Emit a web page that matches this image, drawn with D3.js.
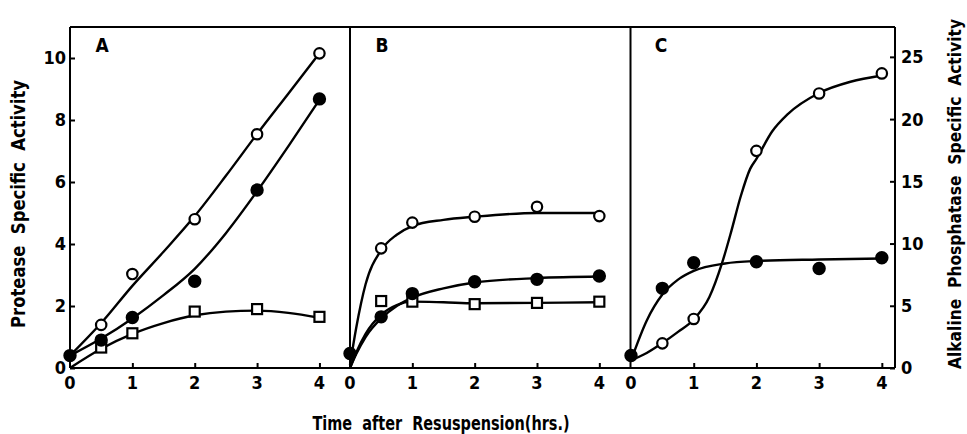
<!DOCTYPE html>
<html><head><meta charset="utf-8">
<script src="https://cdn.jsdelivr.net/npm/d3@7/dist/d3.min.js"></script>
<style>
html,body{margin:0;padding:0;background:#fff;}
svg text{font-family:"DejaVu Sans Condensed","DejaVu Sans",sans-serif;font-stretch:condensed;font-weight:bold;fill:#000;}
svg text.title{white-space:pre;}
</style></head>
<body><svg id="c" width="967" height="434"></svg>
<script>
// ---- data ----
const hours = [0, 0.5, 1, 2, 3, 4];
const xTicks = [0, 1, 2, 3, 4];
const leftTicks = [0, 2, 4, 6, 8, 10];
const rightTicks = [0, 5, 10, 15, 20, 25];
const panelLabels = ["A", "B", "C"];

// Panel A (protease)
const openA   = [null, 1.39, 3.03, 4.8, 7.54, 10.15];
const filledA = [0.4, 0.9, 1.63, 2.8, 5.74, 8.68];
const squareA = [null, 0.66, 1.12, 1.82, 1.9, 1.65];
const openFitA   = [[0,0.4],[0.5,1.45],[1,2.65],[1.5,3.75],[2,4.9],[2.5,6.2],[3,7.55],[3.5,8.85],[4,10.15]];
const filledFitA = [[0,0.4],[0.5,0.95],[1,1.6],[1.5,2.35],[2,3.2],[2.5,4.35],[3,5.7],[3.5,7.15],[4,8.65]];
const squareFitA = [[0,0.0],[0.5,0.62],[1,1.1],[1.5,1.45],[2,1.7],[2.5,1.82],[3,1.85],[3.5,1.78],[4,1.62]];

// Panel B (protease)
const openB   = [null, 3.86, 4.69, 4.88, 5.2, 4.9];
const filledB = [0.47, 1.65, 2.4, 2.78, 2.86, 2.97];
const squareB = [null, 2.16, 2.14, 2.06, 2.1, 2.14];
const openFitB   = [[0,0.1],[0.1,1.3],[0.25,2.7],[0.5,3.8],[0.75,4.3],[1,4.58],[1.5,4.78],[2,4.88],[3,5.0],[4,5.0]];
const filledFitB = [[0,0.0],[0.1,0.45],[0.25,1.0],[0.5,1.6],[0.75,2.0],[1,2.27],[1.5,2.57],[2,2.76],[3,2.9],[4,2.95]];
const squareFitB = [[0,0.0],[0.1,0.5],[0.25,1.1],[0.5,1.72],[0.75,2.03],[1,2.14],[1.5,2.12],[2,2.09],[3,2.1],[4,2.12]];

// Panel C (alkaline phosphatase, right axis)
const openC   = [null, 1.98, 3.94, 17.45, 22.06, 23.67];
const filledC = [1.0, 6.4, 8.46, 8.54, 8.0, 8.86];
const openFitC   = [[0,0.6],[0.25,1.2],[0.5,2.0],[0.75,2.9],[1,3.9],[1.25,5.7],[1.45,8.4],[1.6,11.0],[1.75,13.8],[1.9,16.0],[2,16.8],[2.25,19.0],[2.5,20.4],[3,22.1],[3.5,23.0],[4,23.5]];
const filledFitC = [[0,0.6],[0.25,3.8],[0.5,5.9],[0.75,7.1],[1,7.8],[1.5,8.4],[2,8.6],[3,8.72],[4,8.8]];

// ---- layout ----
const svg = d3.select("#c");
const yTop = 27, yBot = 368;
const yL = d3.scaleLinear().domain([0, 11]).range([yBot, yTop]);
const yR = d3.scaleLinear().domain([0, 27.4]).range([yBot, yTop]);
const panels = [
  {x: d3.scaleLinear().domain([0, 4.49]).range([70, 350]), y: yL,
   lines: [openFitA, filledFitA, squareFitA], open: openA, filled: filledA, square: squareA},
  {x: d3.scaleLinear().domain([0, 4.5]).range([350, 630.5]), y: yL,
   lines: [openFitB, filledFitB, squareFitB], open: openB, filled: filledB, square: squareB},
  {x: d3.scaleLinear().domain([0, 4.21]).range([631, 895]), y: yR,
   lines: [openFitC, filledFitC], open: openC, filled: filledC, square: null}
];

// frame
const g = svg.append("g").attr("stroke", "#000").attr("stroke-width", 2).attr("fill", "none");
g.append("line").attr("x1", 70).attr("x2", 895).attr("y1", yTop).attr("y2", yTop);
g.append("line").attr("x1", 70).attr("x2", 895).attr("y1", yBot).attr("y2", yBot);
[70, 350, 630.5, 895].forEach(x => g.append("line").attr("x1", x).attr("x2", x).attr("y1", yTop).attr("y2", yBot));

// left axis
const leftAx = svg.append("g").attr("transform", "translate(70,0)")
  .call(d3.axisRight(yL).tickValues(leftTicks).tickSize(5).tickFormat(""));
leftAx.select(".domain").remove();
leftAx.selectAll("line").attr("stroke-width", 2);
svg.append("g").selectAll("text").data(leftTicks).join("text")
  .attr("x", 66).attr("y", d => yL(d)).attr("dy", "0.36em").attr("text-anchor", "end")
  .attr("font-size", 18).text(d => d);

// right axis
const rightAx = svg.append("g").attr("transform", "translate(895,0)")
  .call(d3.axisLeft(yR).tickValues(rightTicks).tickSize(5).tickFormat(""));
rightAx.select(".domain").remove();
rightAx.selectAll("line").attr("stroke-width", 2);
svg.append("g").selectAll("text").data(rightTicks).join("text")
  .attr("x", 901).attr("y", d => yR(d)).attr("dy", "0.36em").attr("text-anchor", "start")
  .attr("font-size", 18).text(d => d);

const line = d3.line().curve(d3.curveMonotoneX);

panels.forEach((p, i) => {
  const ax = svg.append("g").attr("transform", `translate(0,${yBot})`)
    .call(d3.axisTop(p.x).tickValues(xTicks.slice(1)).tickSize(5).tickFormat(""));
  ax.select(".domain").remove();
  ax.selectAll("line").attr("stroke-width", 2);
  svg.append("g").selectAll("text").data(xTicks).join("text")
    .attr("x", d => p.x(d)).attr("y", 389).attr("text-anchor", "middle")
    .attr("font-size", 18).text(d => d);

  svg.append("text").attr("x", p.x(0) + (i === 2 ? 30 : 32)).attr("y", 52)
    .attr("font-size", 19).attr("text-anchor", "middle").text(panelLabels[i]);

  const lg = svg.append("g").attr("fill", "none").attr("stroke", "#000").attr("stroke-width", 2.4);
  p.lines.forEach(s => lg.append("path")
    .attr("d", line(s.map(d => [p.x(d[0]), p.y(d[1])]))));

  const mg = svg.append("g").attr("stroke", "#000").attr("stroke-width", 2.2);
  if (p.square) {
    mg.selectAll("rect.sq").data(hours.map((h, k) => [h, p.square[k]]).filter(d => d[1] != null))
      .join("rect").attr("class", "sq").attr("fill", "#fff")
      .attr("x", d => p.x(d[0]) - 5).attr("y", d => p.y(d[1]) - 5).attr("width", 10).attr("height", 10);
  }
  mg.selectAll("circle.op").data(hours.map((h, k) => [h, p.open[k]]).filter(d => d[1] != null))
    .join("circle").attr("class", "op").attr("fill", "#fff")
    .attr("cx", d => p.x(d[0])).attr("cy", d => p.y(d[1])).attr("r", 5.2);
  mg.selectAll("circle.fi").data(hours.map((h, k) => [h, p.filled[k]]).filter(d => d[1] != null))
    .join("circle").attr("class", "fi").attr("fill", "#000")
    .attr("cx", d => p.x(d[0])).attr("cy", d => p.y(d[1])).attr("r", 5.6);
});

// axis titles
svg.append("text").attr("class", "title").attr("transform", "translate(25,204) rotate(-90)")
  .attr("text-anchor", "middle").attr("font-size", 19)
  .attr("textLength", 248).attr("lengthAdjust", "spacingAndGlyphs")
  .text("Protease  Specific  Activity");
svg.append("text").attr("class", "title").attr("transform", "translate(961,194) rotate(-90)")
  .attr("text-anchor", "middle").attr("font-size", 18)
  .attr("textLength", 350).attr("lengthAdjust", "spacingAndGlyphs")
  .text("Alkaline  Phosphatase  Specific  Activity");
svg.append("text").attr("class", "title").attr("x", 441).attr("y", 430)
  .attr("text-anchor", "middle").attr("font-size", 19)
  .attr("textLength", 257).attr("lengthAdjust", "spacingAndGlyphs")
  .text("Time  after  Resuspension(hrs.)");
</script></body></html>
